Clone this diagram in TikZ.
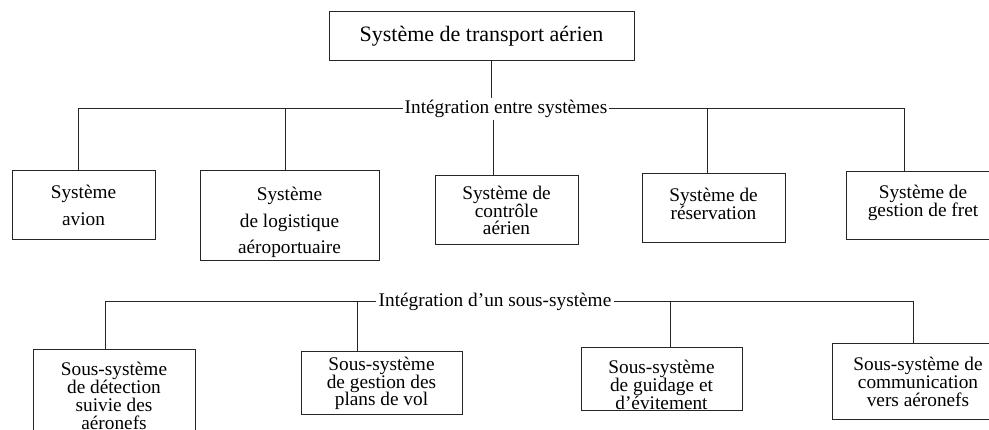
\documentclass[tikz,border=0pt]{standalone}
\usepackage{fontspec}
\setmainfont{Liberation Serif}
\begin{document}
\begin{tikzpicture}[x=1pt,y=-1pt,
  box/.style={draw=black!85,line width=1pt,align=center,inner sep=0pt,
    font=\fontsize{19.3}{17.8}\selectfont},
  widebox/.style={box,font=\fontsize{19.3}{26.5}\selectfont},
  lbl/.style={inner sep=2pt,font=\fontsize{19.3}{20}\selectfont},
  conn/.style={draw=black!85,line width=1pt}]
\useasboundingbox (0,0) rectangle (989,430);
% top
\node[box,font=\fontsize{22}{24}\selectfont,minimum width=305,minimum height=49] (top) at (481.5,36.5) {Système de transport aérien};
\node[lbl] (int1) at (506,109) {Intégration entre systèmes};
% systems
\node[widebox,minimum width=143,minimum height=69] (b1) at (83.5,205.5) {Système\\avion};
\node[widebox,minimum width=179,minimum height=90] (b2) at (289.5,216) {Système\\de logistique\\aéroportuaire\\[-36pt]\mbox{}};
\node[box,minimum width=143,minimum height=69] (b3) at (506.5,210.5) {Système de\\contrôle\\aérien};
\node[box,minimum width=143,minimum height=69] (b4) at (713.5,208.5) {Système de\\réservation\\[-8pt]\mbox{}};
\node[box,minimum width=154,minimum height=68] (b5) at (923,206) {Système de\\gestion de fret\\[-8pt]\mbox{}};
% subsystems
\node[lbl] (int2) at (495,302) {Intégration d’un sous-système};
\node[box,minimum width=162,minimum height=92] (s1) at (114,396) {Sous-système\\de détection\\suivie des\\aéronefs};
\node[box,minimum width=161,minimum height=63] (s2) at (381.5,383.5) {Sous-système\\de gestion des\\plans de vol};
\node[box,minimum width=161,minimum height=63] (s3) at (661.5,379.5) {Sous-système\\de guidage et\\d’évitement\\[-28pt]\mbox{}};
\node[box,minimum width=172,minimum height=76] (s4) at (918,382) {Sous-système de\\communication\\vers aéronefs};
% drop coordinates
\coordinate (xt) at (491,0);
\coordinate (x1) at (78,0);
\coordinate (x2) at (285,0);
\coordinate (x3) at (493,0);
\coordinate (x4) at (707,0);
\coordinate (x5) at (904,0);
\coordinate (y1) at (105,0);
\coordinate (y2) at (357,0);
\coordinate (y3) at (670,0);
\coordinate (y4) at (913,0);
% connectors top
\draw[conn] (top.south -| xt) -- (int1.north -| xt);
\draw[conn] (int1.west) -- (int1.west -| x1) -- (b1.north -| x1);
\draw[conn] (int1.west -| x2) -- (b2.north -| x2);
\draw[conn] (int1.south -| x3) -- (b3.north -| x3);
\draw[conn] (int1.east) -- (int1.east -| x5) -- (b5.north -| x5);
\draw[conn] (int1.east -| x4) -- (b4.north -| x4);
% connectors bottom
\draw[conn] (int2.west) -- (int2.west -| y1) -- (s1.north -| y1);
\draw[conn] (int2.west -| y2) -- (s2.north -| y2);
\draw[conn] (int2.east) -- (int2.east -| y4) -- (s4.north -| y4);
\draw[conn] (int2.east -| y3) -- (s3.north -| y3);
\end{tikzpicture}
\end{document}
